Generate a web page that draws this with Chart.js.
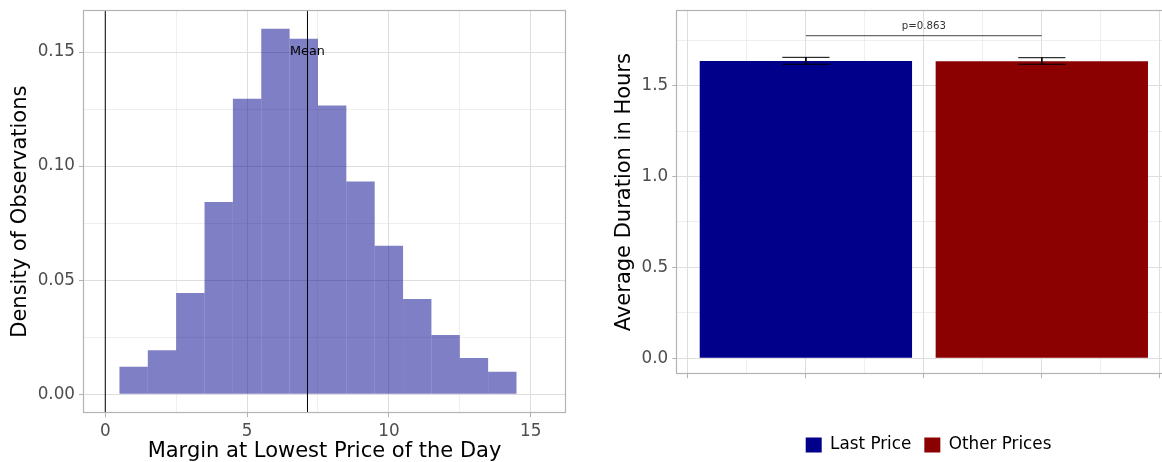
<!DOCTYPE html>
<html><head><meta charset="utf-8">
<script src="https://cdn.jsdelivr.net/npm/chart.js@4.4.1/dist/chart.umd.min.js"></script>
<style>
html,body{margin:0;padding:0;width:1162px;height:462px;overflow:hidden;background:#fff}
#left{position:absolute;left:0;top:0}
#right{position:absolute;left:590px;top:0}
</style></head><body>
<canvas id="left" width="580" height="462"></canvas>
<canvas id="right" width="600" height="462"></canvas>
<script>
// ---------- histogram data ----------
const binCenters = [1, 2, 3, 4, 5, 6, 7, 8, 9, 10, 11, 12, 13, 14];
const binDensity = [0.0121, 0.0193, 0.0444, 0.0843, 0.1295, 0.1602, 0.1558, 0.1266, 0.0933, 0.0651, 0.0418, 0.0260, 0.0159, 0.0099];
const refLines = [0, 7.13];
const meanValue = 7.13;
const meanLabel = 'Mean';
const meanLabelY = 0.15;
const histXMajor = [0, 5, 10, 15];
const histXMinor = [2.5, 7.5, 12.5];
const histYMajor = [0, 0.05, 0.10, 0.15];
const histYMinor = [0.025, 0.075, 0.125];
const histXRange = [-0.75, 16.21];
const histYRange = [-0.0079, 0.168];
const histXTitle = 'Margin at Lowest Price of the Day';
const histYTitle = 'Density of Observations';

// ---------- bar chart data ----------
const groups = ['Last Price', 'Other Prices'];
const groupX = [1, 2];
const meanDuration = [1.636, 1.635];
const ciLow = [1.618, 1.618];
const ciHigh = [1.656, 1.654];
const pLabel = 'p=0.863';
const sigLineY = 1.775;
const sigLabelY = 1.825;
const barXMajor = [0.5, 1, 1.5, 2, 2.5];
const barXMinor = [0.75, 1.25, 1.75, 2.25];
const barYMajor = [0, 0.5, 1.0, 1.5];
const barYMinor = [0.25, 0.75, 1.25, 1.75];
const barXRange = [0.455, 2.545];
const barYRange = [-0.083, 1.911];
const barYTitle = 'Average Duration in Hours';
const barColors = ['#00008B', '#8B0000'];

// ---------- styling ----------
const FONT = 'DejaVu Sans';
Chart.defaults.font.family = FONT;
const BAR_WIDTH_UNITS = 0.9;
const ERR_WIDTH_UNITS = 0.2;

function gridScale(major, minor, range, fmt, extra, fitFn) {
  const all = major.concat(minor).sort((a, b) => a - b);
  const isMajor = v => major.some(m => Math.abs(m - v) < 1e-9);
  const base = {
    type: 'linear', min: range[0], max: range[1], offset: false,
    afterBuildTicks: s => { s.ticks = all.map(v => ({ value: v })); },
    afterFit: s => {
      fitFn(s);
      s.paddingTop = 0; s.paddingBottom = 0; s.paddingLeft = 0; s.paddingRight = 0;
    },
    ticks: {
      autoSkip: false, maxRotation: 0, color: '#4d4d4d',
      font: { family: FONT, size: 16.8 }, padding: 4,
      callback: v => (isMajor(v) && fmt) ? fmt(v) : ''
    },
    grid: {
      offset: false, drawTicks: true, tickLength: 5,
      color: '#dedede',
      lineWidth: ctx => (ctx.tick && !isMajor(ctx.tick.value)) ? 0.5 : 1,
      tickColor: ctx => (ctx.tick && !isMajor(ctx.tick.value)) ? 'rgba(0,0,0,0)' : '#b3b3b3',
      tickWidth: 1
    },
    border: { display: false }
  };
  return Object.assign(base, extra || {});
}
function minStep(arr) {
  const s = arr.slice().sort((a, b) => a - b);
  let m = Infinity;
  for (let i = 1; i < s.length; i++) m = Math.min(m, s[i] - s[i - 1]);
  return m;
}

const panelBorder = {
  id: 'panelBorder',
  afterDatasetsDraw(chart) {
    const a = chart.chartArea, c = chart.ctx;
    c.save();
    c.strokeStyle = '#b3b3b3';
    c.lineWidth = 1.2;
    c.strokeRect(Math.round(a.left) - 0.5, Math.round(a.top) - 0.5, Math.round(a.right - a.left) + 1, Math.round(a.bottom - a.top) + 1);
    c.restore();
  }
};

// ---------- left: histogram ----------
const meanText = {
  id: 'meanText',
  afterDatasetsDraw(chart) {
    const c = chart.ctx, x = chart.scales.x, y = chart.scales.y;
    c.save();
    c.font = '12.8px "' + FONT + '"';
    c.fillStyle = '#000';
    c.textAlign = 'center';
    c.textBaseline = 'middle';
    c.fillText(meanLabel, x.getPixelForValue(meanValue), y.getPixelForValue(meanLabelY));
    c.restore();
  }
};

new Chart(document.getElementById('left'), {
  type: 'bar',
  data: {
    datasets: [
      {
        type: 'bar', order: 2,
        data: binCenters.map((x, i) => ({ x: x, y: binDensity[i] })),
        backgroundColor: 'rgba(0,0,139,0.5)', borderWidth: 0, inflateAmount: 0,
        barPercentage: 1, categoryPercentage: 1
      }
    ].concat(refLines.map(v => ({
      type: 'line', order: 1,
      data: [{ x: v, y: histYRange[0] }, { x: v, y: histYRange[1] }],
      borderColor: '#000', borderWidth: 1, pointRadius: 0, fill: false
    })))
  },
  options: {
    responsive: false, animation: false, devicePixelRatio: 1,
    layout: { padding: { left: 0, right: 15, top: 11, bottom: 0 } },
    plugins: { legend: { display: false }, tooltip: { enabled: false } },
    scales: {
      x: gridScale(histXMajor, histXMinor, histXRange, v => String(v), {
        position: 'bottom',
        title: { display: true, text: histXTitle, color: '#000', font: { family: FONT, size: 21, lineHeight: 1 }, padding: { top: 0, bottom: 0 } }
      }, s => { s.height = 462 - 412.3; }),
      y: gridScale(histYMajor, histYMinor, histYRange, v => v.toFixed(2), {
        position: 'left',
        title: { display: true, text: histYTitle, color: '#000', font: { family: FONT, size: 21, lineHeight: 1 }, padding: { top: 10, bottom: 0 } }
      }, s => { s.width = 84; })
    }
  },
  plugins: [panelBorder, meanText]
});

// ---------- right: bar chart ----------
const errData = [];
groupX.forEach((gx, i) => {
  const h = ERR_WIDTH_UNITS / 2;
  errData.push({ x: gx - h, y: ciHigh[i] }, { x: gx + h, y: ciHigh[i] }, { x: gx, y: null },
    { x: gx, y: ciHigh[i] }, { x: gx, y: ciLow[i] }, { x: gx, y: null },
    { x: gx - h, y: ciLow[i] }, { x: gx + h, y: ciLow[i] }, { x: gx, y: null });
});

const pText = {
  id: 'pText',
  afterDatasetsDraw(chart) {
    const c = chart.ctx, x = chart.scales.x, y = chart.scales.y;
    c.save();
    c.font = '10.2px "' + FONT + '"';
    c.fillStyle = '#333';
    c.textAlign = 'center';
    c.textBaseline = 'middle';
    c.fillText(pLabel, x.getPixelForValue((groupX[0] + groupX[1]) / 2), y.getPixelForValue(sigLabelY));
    c.restore();
  }
};

const legendShift = {
  id: 'legendShift',
  afterLayout(chart) {
    const lg = chart.legend;
    if (lg) { lg.left += 4.7; lg.right += 4.7; }
  }
};

const barXTicks = barXMajor.concat(barXMinor);

new Chart(document.getElementById('right'), {
  type: 'bar',
  data: {
    datasets: [
      {
        type: 'bar', order: 3,
        data: groupX.map((x, i) => ({ x: x, y: meanDuration[i] })),
        backgroundColor: barColors, borderWidth: 0,
        categoryPercentage: 1,
        barPercentage: BAR_WIDTH_UNITS / minStep(barXTicks)
      },
      {
        type: 'line', order: 2, data: errData, spanGaps: false,
        borderColor: '#000', borderWidth: 1, pointRadius: 0, fill: false
      },
      {
        type: 'line', order: 1,
        data: [{ x: groupX[0], y: sigLineY }, { x: groupX[1], y: sigLineY }],
        borderColor: '#444', borderWidth: 1, pointRadius: 0, fill: false
      }
    ]
  },
  options: {
    responsive: false, animation: false, devicePixelRatio: 1,
    layout: { padding: { left: 0, right: 600 - (1170.4 - 590), top: 11, bottom: -1.4 } },
    plugins: {
      tooltip: { enabled: false },
      legend: {
        display: true, position: 'bottom', fullSize: false,
        onClick: null,
        labels: {
          boxWidth: 16, boxHeight: 15, padding: 13, color: '#000',
          font: { family: FONT, size: 16.8 },
          generateLabels: () => groups.map((g, i) => ({
            text: g, fillStyle: barColors[i], strokeStyle: barColors[i], lineWidth: 0, hidden: false, datasetIndex: 0
          }))
        }
      }
    },
    scales: {
      x: gridScale(barXMajor, barXMinor, barXRange, null, {
        position: 'bottom'
      }, s => { s.height = 423.6 - 373.3; }),
      y: gridScale(barYMajor, barYMinor, barYRange, v => v.toFixed(1), {
        position: 'left',
        title: { display: true, text: barYTitle, color: '#000', font: { family: FONT, size: 21, lineHeight: 1 }, padding: { top: 24, bottom: 0 } }
      }, s => { s.width = 677.3 - 590; })
    }
  },
  plugins: [panelBorder, pText, legendShift]
});
</script>
</body></html>
